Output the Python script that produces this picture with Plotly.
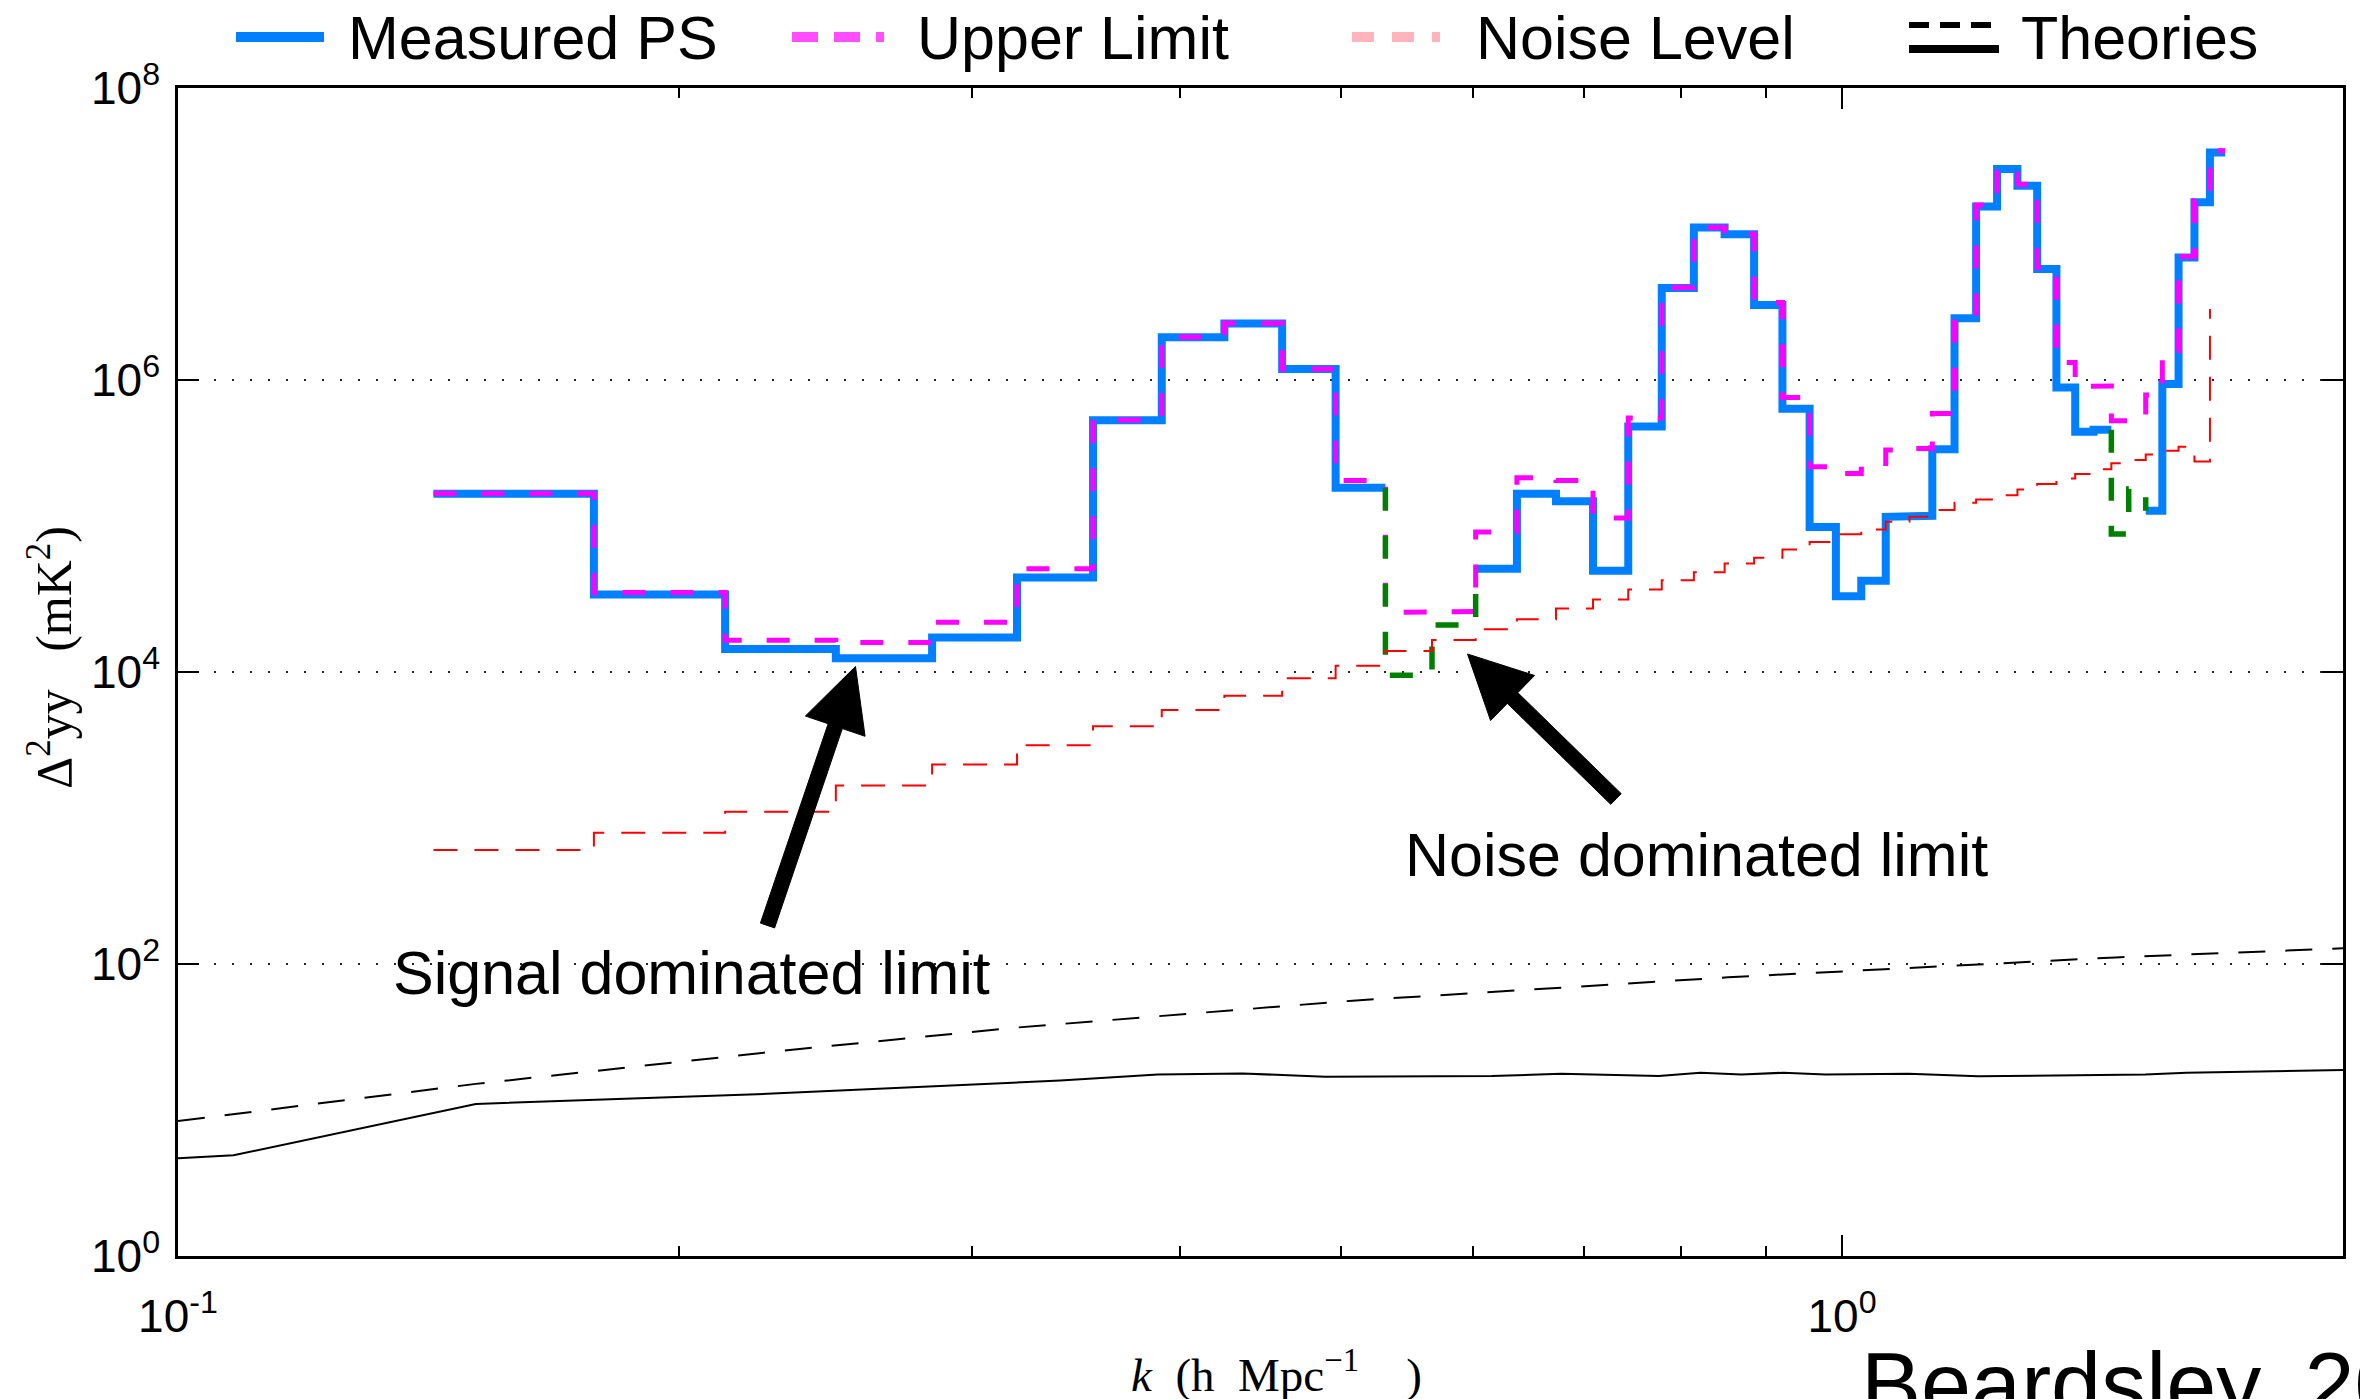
import math
import plotly.graph_objects as go

# ---------------------------------------------------------------------------
# Data
# ---------------------------------------------------------------------------
# k bin edges (h Mpc^-1)
k_edges = [0.1424, 0.1778, 0.2132, 0.2485, 0.2839, 0.3193, 0.3547, 0.3901, 0.4254,
           0.4608, 0.4962, 0.5316, 0.5670, 0.6023, 0.6377, 0.6731, 0.7085, 0.7439,
           0.7792, 0.8146, 0.8500, 0.8854, 0.9208, 0.9561, 0.9915, 1.0269, 1.0623,
           1.0977, 1.1330, 1.1684, 1.2038, 1.2392, 1.2746, 1.3099, 1.3453, 1.3807,
           1.4161, 1.4515, 1.4868, 1.5222, 1.5576, 1.5930, 1.6284, 1.6637, 1.6991]

# measured yy power spectrum per bin (mK^2); negative bins are drawn as |PS|
measured_ps = [1.66e5, 3.40e4, 1.44e4, 1.24e4, 1.72e4, 4.44e4, 5.30e5, 1.96e6, 2.44e6,
               1.19e6, 1.83e5, -9.5e3, -2.1e4, 5.1e4, 1.66e5, 1.48e5, 4.94e4, 4.80e5,
               4.26e6, 1.11e7, 9.98e6, 3.27e6, 6.35e5, 9.86e4, 3.30e4, 4.21e4, 1.156e5,
               1.175e5, 3.35e5, 2.65e6, 1.54e7, 2.79e7, 2.14e7, 5.75e6, 8.9e5, 4.42e5,
               4.57e5, -8.8e4, -1.79e5, 1.27e5, 9.4e5, 6.9e6, 1.65e7, 3.62e7]

# 2-sigma upper limit per bin (mK^2)
upper_limit = [1.67e5, 3.51e4, 1.65e4, 1.59e4, 2.19e4, 5.1e4, 5.33e5, 1.97e6, 2.45e6,
               1.19e6, 2.05e5, 2.56e4, 2.60e4, 9.1e4, 2.14e5, 2.05e5, 1.135e5, 5.5e5,
               4.3e6, 1.11e7, 1.0e7, 3.39e6, 7.6e5, 2.55e5, 2.29e5, 2.45e5, 3.31e5,
               3.39e5, 5.9e5, 2.86e6, 1.58e7, 2.8e7, 2.19e7, 5.9e6, 1.32e6, 9.06e5,
               9.1e5, 5.25e5, 5.37e5, 7.9e5, 1.58e6, 7.0e6, 1.69e7, 3.72e7]

# thermal noise level at each edge (mK^2); the last entry closes the staircase
noise_level = [604, 792, 1104, 1667, 2323, 3155, 4246, 5495, 6887, 9057, 1.104e4,
               1.393e4, 1.656e4, 1.959e4, 2.301e4, 2.723e4, 3.141e4, 3.673e4, 4.256e4,
               4.819e4, 5.534e4, 6.053e4, 6.902e4, 7.78e4, 8.79e4, 9.46e4, 1.069e5,
               1.156e5, 1.285e5, 1.442e5, 1.521e5, 1.626e5, 1.778e5, 1.941e5, 2.118e5,
               2.270e5, 2.443e5, 2.69e5, 2.83e5, 3.09e5, 3.28e5, 3.49e5, 2.77e5, 3.06e6]

# theoretical 21 cm power spectra (mK^2)
k_theory_a = [0.1, 0.151, 0.231, 0.320, 0.508, 0.854, 1.46, 2.0]
theory_a = [8.4, 15.1, 25.5, 36.8, 56.1, 81.1, 111, 128]

k_theory_b = [0.1, 0.108, 0.151, 0.226, 0.339, 0.388, 0.436, 0.489, 0.616, 0.678, 0.776,
              0.822, 0.870, 0.922, 0.977, 1.096, 1.207, 1.521, 1.611, 1.843, 2.0]
theory_b = [4.67, 4.9, 11.0, 12.9, 15.9, 17.5, 17.8, 16.9, 17.1, 17.7, 17.1,
            18.0, 17.5, 18.0, 17.5, 17.7, 17.0, 17.5, 18.0, 18.6, 18.8]

y_tick_vals = [1, 1e2, 1e4, 1e6, 1e8]
y_tick_text = ["10<sup>0</sup>", "10<sup>2</sup>", "10<sup>4</sup>", "10<sup>6</sup>", "10<sup>8</sup>"]
x_tick_vals = [0.1, 1]
x_tick_text = ["10<sup>-1</sup>", "10<sup>0</sup>"]
x_minor_vals = [0.2, 0.3, 0.4, 0.5, 0.6, 0.7, 0.8, 0.9]


# ---------------------------------------------------------------------------
# Staircase helpers
# ---------------------------------------------------------------------------
def stairs(edges, vals):
    """Horizontal segment per bin, vertical risers between bins (NaN breaks)."""
    xs, ys = [], []
    for i, v in enumerate(vals):
        xs += [edges[i], edges[i + 1]]
        ys += [v, v]
    return xs, ys


def negative_runs(edges, vals):
    """|value| staircase for runs of negative bins, joined to neighbouring levels."""
    xs, ys = [], []
    n = len(vals)
    i = 0
    while i < n:
        if vals[i] < 0:
            j = i
            while j + 1 < n and vals[j + 1] < 0:
                j += 1
            if i > 0:
                xs.append(edges[i]); ys.append(abs(vals[i - 1]))
            for m in range(i, j + 1):
                xs += [edges[m], edges[m + 1]]
                ys += [abs(vals[m]), abs(vals[m])]
            if j + 1 < n:
                xs.append(edges[j + 1]); ys.append(abs(vals[j + 1]))
            xs.append(None); ys.append(None)
            i = j + 1
        else:
            i += 1
    return xs, ys


positive_ps = [v if v > 0 else float("nan") for v in measured_ps]
ps_x, ps_y = stairs(k_edges, positive_ps)
ul_x, ul_y = stairs(k_edges, upper_limit)
neg_x, neg_y = negative_runs(k_edges, measured_ps)
nl_x, nl_y = stairs(k_edges[:len(noise_level)], noise_level[:-1])
nl_x.append(k_edges[len(noise_level) - 1]); nl_y.append(noise_level[-1])

BLUE = "#0080FF"
MAGENTA = "#FF00FF"
GREEN = "#008000"
RED = "#FF0000"
PINK = "#FFB3BA"

fig = go.Figure()
fig.add_trace(go.Scatter(x=ps_x, y=ps_y, mode="lines", name="Measured PS",
                         line=dict(color=BLUE, width=8)))
fig.add_trace(go.Scatter(x=ul_x, y=ul_y, mode="lines", name="Upper Limit",
                         line=dict(color=MAGENTA, width=5, dash="23px,25px")))
fig.add_trace(go.Scatter(x=neg_x, y=neg_y, mode="lines", name="|Measured PS|",
                         line=dict(color=GREEN, width=5.5, dash="23px,25px")))
fig.add_trace(go.Scatter(x=nl_x, y=nl_y, mode="lines", name="Noise Level",
                         line=dict(color=RED, width=2, dash="24px,17px")))
fig.add_trace(go.Scatter(x=k_theory_a, y=theory_a, mode="lines", name="Theory",
                         line=dict(color="black", width=2, dash="27px,20px")))
fig.add_trace(go.Scatter(x=k_theory_b, y=theory_b, mode="lines", name="Theory",
                         line=dict(color="black", width=2)))

# ---------------------------------------------------------------------------
# Layout geometry (pixels)
# ---------------------------------------------------------------------------
FIG_W, FIG_H = 2360, 1399
ML, MR, MT, MB = 178, 17, 88, 143
PW, PH = FIG_W - ML - MR, FIG_H - MT - MB


def px(x):
    return (x - ML) / PW


def py(y):
    return (MT + PH - y) / PH


shapes = []
annotations = []

# legend swatches
shapes.append(dict(type="line", xref="paper", yref="paper", x0=px(236), x1=px(324),
                   y0=py(37), y1=py(37), line=dict(color=BLUE, width=10)))
shapes.append(dict(type="line", xref="paper", yref="paper", x0=px(792), x1=px(884),
                   y0=py(37), y1=py(37), line=dict(color="#FF4DFF", width=10, dash="26px,16px")))
shapes.append(dict(type="line", xref="paper", yref="paper", x0=px(1352), x1=px(1440),
                   y0=py(37), y1=py(37), line=dict(color=PINK, width=10, dash="22px,18px")))
shapes.append(dict(type="line", xref="paper", yref="paper", x0=px(1909), x1=px(1999),
                   y0=py(25), y1=py(25), line=dict(color="black", width=6, dash="20px,11px")))
shapes.append(dict(type="line", xref="paper", yref="paper", x0=px(1909), x1=px(1999),
                   y0=py(49), y1=py(49), line=dict(color="black", width=8)))

legend_labels = [("Measured PS", 346), ("Upper Limit", 915), ("Noise Level", 1474),
                 ("Theories", 2019)]
for text, x in legend_labels:
    annotations.append(dict(text=text, xref="paper", yref="paper", x=px(x), y=py(38),
                            xanchor="left", yanchor="middle", showarrow=False,
                            font=dict(family="Liberation Sans", size=61, color="black")))


# arrows (filled polygons)
def arrow_path(tip, tail, head_len=63, head_half=31.5, shaft_half=7.5):
    dx, dy = tip[0] - tail[0], tip[1] - tail[1]
    ln = math.hypot(dx, dy)
    ux, uy = dx / ln, dy / ln
    nx, ny = -uy, ux
    bx, by = tip[0] - head_len * ux, tip[1] - head_len * uy
    pts = [(tail[0] + shaft_half * nx, tail[1] + shaft_half * ny),
           (bx + shaft_half * nx, by + shaft_half * ny),
           (bx + head_half * nx, by + head_half * ny),
           tip,
           (bx - head_half * nx, by - head_half * ny),
           (bx - shaft_half * nx, by - shaft_half * ny),
           (tail[0] - shaft_half * nx, tail[1] - shaft_half * ny)]
    d = "M " + " L ".join(f"{px(x):.5f},{py(y):.5f}" for x, y in pts) + " Z"
    return d


for tip, tail in [((855.5, 666.5), (767.5, 925.5)), ((1467.5, 654), (1616, 799))]:
    shapes.append(dict(type="path", xref="paper", yref="paper", path=arrow_path(tip, tail),
                       fillcolor="black", line=dict(color="black", width=1)))

annotations.append(dict(text="Signal dominated limit", xref="paper", yref="paper",
                        x=px(391), y=py(973), xanchor="left", yanchor="middle",
                        showarrow=False,
                        font=dict(family="Liberation Sans", size=61, color="black")))
annotations.append(dict(text="Noise dominated limit", xref="paper", yref="paper",
                        x=px(1403), y=py(855), xanchor="left", yanchor="middle",
                        showarrow=False,
                        font=dict(family="Liberation Sans", size=61, color="black")))
annotations.append(dict(text="Beardsley, 2016", xref="paper", yref="paper",
                        x=px(1859), y=py(1385), xanchor="left", yanchor="middle",
                        showarrow=False,
                        font=dict(family="Liberation Sans", size=90, color="black")))

# axis titles
NB = "\u00a0"
annotations.append(dict(text=f"<i>k</i>{NB * 2}(h{NB * 2}Mpc<sup>−1</sup>{NB * 4})",
                        xref="paper", yref="paper", x=px(1276), y=py(1371),
                        xanchor="center", yanchor="middle", showarrow=False,
                        font=dict(family="Liberation Serif", size=47, color="black")))
annotations.append(dict(text=f"Δ<sup>2</sup>yy{NB * 3}(mK<sup>2</sup>)", xref="paper",
                        yref="paper", x=px(50), y=py(658), xanchor="center",
                        yanchor="middle", textangle=-90, showarrow=False,
                        font=dict(family="Liberation Serif", size=50, color="black")))

axis_common = dict(type="log", showline=True, linecolor="black", linewidth=2.5,
                   mirror="ticks", ticks="inside", ticklen=21, tickwidth=1.5,
                   tickcolor="black", zeroline=False,
                   tickfont=dict(family="Liberation Sans", size=46, color="black"))

fig.update_layout(
    width=FIG_W, height=FIG_H,
    margin=dict(l=ML, r=MR, t=MT, b=MB, pad=0),
    paper_bgcolor="white", plot_bgcolor="white",
    showlegend=False,
    font=dict(family="Liberation Sans", color="black"),
    xaxis=dict(range=[-1, math.log10(2)], tickmode="array", tickvals=x_tick_vals,
               ticktext=x_tick_text, showgrid=False, ticklabelstandoff=18,
               minor=dict(tickmode="array", tickvals=x_minor_vals, ticks="inside",
                          ticklen=10, tickwidth=1.5, tickcolor="black", showgrid=False),
               **axis_common),
    yaxis=dict(range=[0, 8], tickmode="array", tickvals=y_tick_vals, ticktext=y_tick_text,
               showgrid=True, gridcolor="#222222", gridwidth=2.2, griddash="2px,16px",
               ticklabelstandoff=6, **axis_common),
    shapes=shapes,
    annotations=annotations,
)

fig.write_html("out.html")
